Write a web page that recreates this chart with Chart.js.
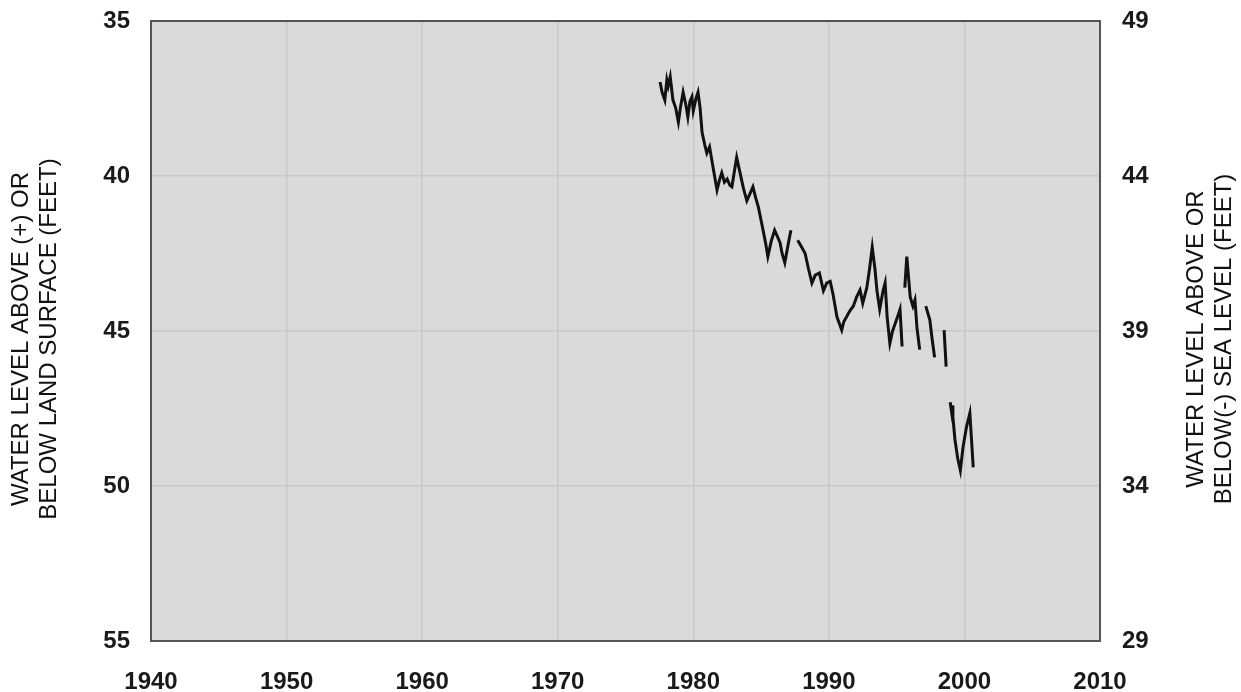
<!DOCTYPE html>
<html>
<head>
<meta charset="utf-8">
<script src="https://cdn.jsdelivr.net/npm/chart.js@4"></script>
<style>
  html, body { margin: 0; padding: 0; background: #fff; }
  #wrap { width: 1241px; height: 692px; }
</style>
</head>
<body>
<div id="wrap"><canvas id="c" width="1241" height="692"></canvas></div>
<script>
// Water level record, feet below land surface (null = gap in record)
const years = [
  1977.55, 1977.7, 1977.9, 1978.05, 1978.15, 1978.3, 1978.5, 1978.7, 1978.9, 1979.05,
  1979.25, 1979.45, 1979.6, 1979.75, 1979.9, 1980.0, 1980.2, 1980.35, 1980.5, 1980.65,
  1980.85, 1981.0, 1981.2, 1981.45, 1981.75, 1981.95, 1982.1, 1982.3, 1982.5, 1982.7,
  1982.85, 1983.05, 1983.2, 1983.45, 1983.7, 1983.95, 1984.15, 1984.4, 1984.6, 1984.8,
  1985.15, 1985.35, 1985.5, 1985.75, 1986.0, 1986.2, 1986.4, 1986.55, 1986.75, 1987.0,
  1987.2, 1987.45,
  1987.7, 1988.0, 1988.25, 1988.5, 1988.75, 1989.0, 1989.3, 1989.6, 1989.85, 1990.1,
  1990.3, 1990.6, 1990.95, 1991.1, 1991.3, 1991.55, 1991.8, 1992.05, 1992.3, 1992.5,
  1992.8, 1993.0, 1993.2, 1993.4, 1993.55, 1993.75, 1994.0, 1994.15, 1994.3, 1994.5,
  1994.7, 1994.9, 1995.1, 1995.25, 1995.4, 1995.5,
  1995.6, 1995.75, 1996.0, 1996.2, 1996.35, 1996.5, 1996.7, 1996.9,
  1997.15, 1997.45, 1997.6, 1997.8, 1998.1,
  1998.5, 1998.65, 1998.8,
  1998.95, 1999.05, 1999.1, 1999.15, 1999.3, 1999.5, 1999.7, 1999.9, 2000.15, 2000.4,
  2000.55, 2000.65
];
const levels = [
  36.97, 37.3, 37.55, 36.9, 37.1, 36.8, 37.55, 37.8, 38.26, 37.8,
  37.3, 37.7, 38.1, 37.6, 37.45, 37.9, 37.5, 37.3, 37.8, 38.6,
  39.0, 39.26, 39.06, 39.7, 40.45, 40.1, 39.9, 40.2, 40.1, 40.3,
  40.35, 39.8, 39.4, 39.9, 40.4, 40.8, 40.6, 40.35, 40.7, 41.0,
  41.75, 42.2, 42.6, 42.1, 41.75, 41.95, 42.15, 42.5, 42.8, 42.2,
  41.75, null,
  42.07, 42.3, 42.5, 43.0, 43.45, 43.2, 43.13, 43.7, 43.45, 43.4,
  43.8, 44.55, 44.97, 44.7, 44.55, 44.35, 44.2, 43.9, 43.68, 44.1,
  43.6, 43.0, 42.3, 43.0, 43.7, 44.3, 43.7, 43.45, 44.55, 45.4,
  45.0, 44.75, 44.5, 44.3, 45.5, null,
  43.6, 42.6, 43.9, 44.2, 44.0, 44.9, 45.6, null,
  44.2, 44.65, 45.2, 45.85, null,
  44.97, 46.15, null,
  47.3, 47.6, 47.4, 47.78, 48.5, 49.1, 49.5, 48.74, 48.1, 47.65,
  48.7, 49.4
];

const xTicks = [1940, 1950, 1960, 1970, 1980, 1990, 2000, 2010];
const leftTicks = [35, 40, 45, 50, 55];
const rightTicks = [29, 34, 39, 44, 49];

const leftTitle = ["WATER LEVEL ABOVE (+) OR", "BELOW LAND SURFACE (FEET)"];
const rightTitle = ["WATER LEVEL ABOVE OR", "BELOW(-) SEA LEVEL (FEET)"];

const TICK_FONT = { family: "'Liberation Sans', Arial, sans-serif", size: 24, weight: "bold" };

// Gray plot area + border + rotated axis titles
const framePlugin = {
  id: "framePlugin",
  beforeDraw: (chart) => {
    const { ctx, chartArea: { left, top, width, height } } = chart;
    ctx.save();
    ctx.fillStyle = "#dadada";
    ctx.fillRect(left, top, width, height);
    ctx.restore();
  },
  afterDraw: (chart) => {
    const { ctx, chartArea: { left, top, width, height } } = chart;
    ctx.save();
    ctx.strokeStyle = "#555555";
    ctx.lineWidth = 2;
    ctx.strokeRect(left, top, width, height);

    ctx.fillStyle = "#111";
    ctx.font = "24px 'Liberation Sans', Arial, sans-serif";
    ctx.textAlign = "center";
    ctx.textBaseline = "middle";
    const cy = top + height / 2 + 8;
    const drawTitle = (lines, x0) => {
      ctx.save();
      ctx.translate(x0, cy);
      ctx.rotate(-Math.PI / 2);
      lines.forEach((line, i) => {
        ctx.fillText(line, 0, i * 28);
      });
      ctx.restore();
    };
    drawTitle(leftTitle, 21);
    drawTitle(rightTitle, 1196);
    ctx.restore();
  },
};

// keep the plot frame where the reference has it
const fitVertical = (w) => (scale) => {
  scale.width = w;
  scale.paddingTop = 0;
  scale.paddingBottom = 0;
};

new Chart(document.getElementById("c"), {
  type: "line",
  data: {
    datasets: [
      {
        data: years.map((y, i) => ({ x: y, y: levels[i] })),
        borderColor: "#111",
        borderWidth: 3,
        pointRadius: 0,
        tension: 0,
        spanGaps: false,
        yAxisID: "y",
      },
    ],
  },
  options: {
    responsive: false,
    animation: false,
    layout: { padding: { top: 21, left: 0, right: 0, bottom: 0 } },
    plugins: { legend: { display: false }, tooltip: { enabled: false } },
    scales: {
      x: {
        type: "linear",
        min: 1940,
        max: 2010,
        afterBuildTicks: (scale) => { scale.ticks = xTicks.map((v) => ({ value: v })); },
        afterFit: (scale) => {
          scale.height = 51;
          scale.paddingLeft = 0;
          scale.paddingRight = 0;
        },
        grid: { color: "#c8c8c8", lineWidth: 1.5, drawTicks: false },
        border: { display: false },
        ticks: {
          font: TICK_FONT,
          color: "#1a1a1a",
          padding: 27,
          maxRotation: 0,
          callback: (v) => String(v),
        },
      },
      y: {
        position: "left",
        reverse: true,
        min: 35,
        max: 55,
        afterBuildTicks: (scale) => { scale.ticks = leftTicks.map((v) => ({ value: v })); },
        afterFit: fitVertical(151),
        grid: { color: "#c8c8c8", lineWidth: 1.5, drawTicks: false },
        border: { display: false },
        ticks: { font: TICK_FONT, color: "#1a1a1a", padding: 21 },
      },
      y2: {
        position: "right",
        min: 29,
        max: 49,
        afterBuildTicks: (scale) => { scale.ticks = rightTicks.map((v) => ({ value: v })); },
        afterFit: fitVertical(141),
        grid: { display: false, drawTicks: false },
        border: { display: false },
        ticks: { font: TICK_FONT, color: "#1a1a1a", padding: 22 },
      },
    },
  },
  plugins: [framePlugin],
});
</script>
</body>
</html>
